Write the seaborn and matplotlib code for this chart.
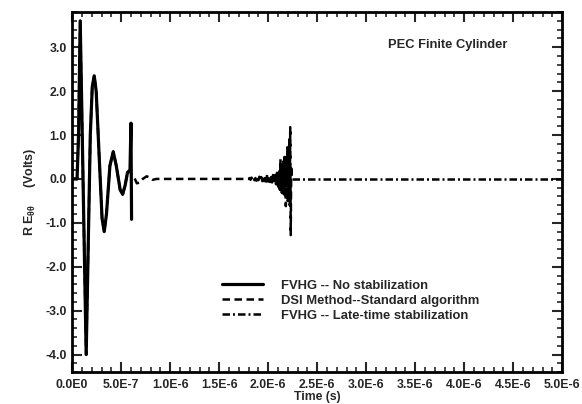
import numpy as np
import pandas as pd
import matplotlib
matplotlib.use("Agg")
import matplotlib.pyplot as plt
from matplotlib.ticker import MultipleLocator, FixedLocator
import seaborn as sns

# ---- data (time in microseconds, field in volts) ----
early_t = [0.000, 0.050, 0.065, 0.082, 0.143, 0.185, 0.205, 0.225, 0.245, 0.280,
           0.305, 0.327, 0.350, 0.385, 0.419, 0.450, 0.490, 0.515, 0.540, 0.565, 0.590]
early_v = [0.00, 0.00, 1.00, 3.60, -4.00, 1.00, 2.10, 2.35, 2.00, 0.30,
           -0.90, -1.20, -0.80, 0.30, 0.62, 0.30, -0.25, -0.35, -0.15, 0.15, 0.20]

# solid: no stabilization (blows up at ~0.6 us)
nostab_t = early_t + [0.600, 0.606]
nostab_v = early_v + [1.27, -0.92]

# dashed: DSI standard algorithm (blows up at ~2.23 us)
dsi_tail_t = [0.600, 0.630, 0.660, 0.690, 0.720, 0.760, 0.790, 0.820, 0.860, 1.800,
              1.81, 1.82, 1.83, 1.84, 1.85, 1.86, 1.87, 1.88, 1.89, 1.90,
              1.91, 1.92, 1.93, 1.94, 1.95, 1.96, 1.97, 1.98, 1.99, 2.00,
              2.01, 2.02, 2.03, 2.04, 2.05, 2.06, 2.07, 2.08, 2.09, 2.10,
              2.105, 2.11, 2.115, 2.12, 2.125, 2.13, 2.135, 2.14, 2.145, 2.15,
              2.155, 2.16, 2.165, 2.17, 2.175, 2.18, 2.185, 2.19, 2.195, 2.20,
              2.205, 2.21, 2.215, 2.22, 2.225, 2.23, 2.235, 2.24]
dsi_tail_v = [0.12, 0.05, -0.10, -0.08, 0.00, 0.06, 0.03, -0.02, 0.00, 0.00,
              0.02, -0.02, 0.03, -0.02, 0.03, -0.03, 0.02, -0.04, 0.04, -0.03,
              0.05, -0.04, 0.04, -0.05, 0.06, -0.05, 0.05, -0.06, 0.12, -0.06,
              0.07, -0.07, 0.08, -0.08, 0.09, -0.10, 0.12, -0.12, 0.14, -0.15,
              0.18, -0.20, 0.22, -0.25, 0.45, -0.30, 0.30, -0.32, 0.35, -0.30,
              0.40, -0.35, 0.50, -0.40, 0.38, -0.62, 0.50, -0.45, 0.72, -0.50,
              0.60, -0.40, 0.90, -0.60, 1.18, -1.28, 0.30, 0.00]
dsi_t = early_t + dsi_tail_t
dsi_v = early_v + dsi_tail_v

# dash-dot: late-time stabilization
late_t = [2.24, 2.60, 3.00, 3.50, 4.00, 4.50, 5.00]
late_v = [0.00, 0.00, 0.00, 0.00, 0.00, 0.00, 0.00]

series_names = ["FVHG -- No stabilization",
                "DSI Method--Standard algorithm",
                "FVHG -- Late-time stabilization"]

x_ticks = [0.0, 0.5e-6, 1.0e-6, 1.5e-6, 2.0e-6, 2.5e-6, 3.0e-6, 3.5e-6, 4.0e-6, 4.5e-6, 5.0e-6]
x_ticklabels = ["0.0E0", "5.0E-7", "1.0E-6", "1.5E-6", "2.0E-6", "2.5E-6",
                "3.0E-6", "3.5E-6", "4.0E-6", "4.5E-6", "5.0E-6"]
y_ticks = [-4.0, -3.0, -2.0, -1.0, 0.0, 1.0, 2.0, 3.0]
y_ticklabels = ["-4.0", "-3.0", "-2.0", "-1.0", "0.0", "1.0", "2.0", "3.0"]

# ---- plotting ----
sns.set_style("ticks")
plt.rcParams["font.family"] = ["Liberation Sans", "DejaVu Sans"]
plt.rcParams["font.weight"] = "bold"
plt.rcParams["mathtext.fontset"] = "custom"
plt.rcParams["mathtext.rm"] = "Liberation Sans:bold"
plt.rcParams["mathtext.it"] = "Liberation Sans:bold"
plt.rcParams["mathtext.bf"] = "Liberation Sans:bold"

fig = plt.figure(figsize=(5.82, 4.04), dpi=100)
ax = fig.add_axes([0.124, 0.079, 0.842, 0.891])

df_no = pd.DataFrame({"t": np.array(nostab_t) * 1e-6, "v": nostab_v})
df_dsi = pd.DataFrame({"t": np.array(dsi_t) * 1e-6, "v": dsi_v})
df_late = pd.DataFrame({"t": np.array(late_t) * 1e-6, "v": late_v})

sns.lineplot(data=df_late, x="t", y="v", ax=ax, color="black", lw=1.8,
             sort=False, label=series_names[2],
             linestyle=(0, (3, 1.2, 0.8, 1.2)), zorder=2)
sns.lineplot(data=df_dsi, x="t", y="v", ax=ax, color="black", lw=1.8,
             sort=False, label=series_names[1], linestyle=(0, (3, 1.8)), zorder=3)
sns.lineplot(data=df_no, x="t", y="v", ax=ax, color="black", lw=2.3,
             sort=False, label=series_names[0], linestyle="-", zorder=4)

ax.set_xlim(0, 5.0e-6)
ax.set_ylim(-4.4, 3.8)
ax.xaxis.set_major_locator(FixedLocator(x_ticks))
ax.set_xticklabels(x_ticklabels)
ax.xaxis.set_minor_locator(MultipleLocator(1e-7))
ax.yaxis.set_major_locator(FixedLocator(y_ticks))
ax.set_yticklabels(y_ticklabels)
ax.yaxis.set_minor_locator(MultipleLocator(0.2))

ax.tick_params(which="both", direction="in", top=True, right=True,
               labelsize=8.8, width=1.5)
ax.tick_params(axis="x", which="major", pad=5)
ax.tick_params(axis="y", which="major", pad=4)
ax.tick_params(which="major", length=7)
ax.tick_params(which="minor", length=3.5, width=1.2)
for lab in ax.get_xticklabels() + ax.get_yticklabels():
    lab.set_fontweight("bold")
for s in ax.spines.values():
    s.set_linewidth(2.0)
    s.set_color("black")

ax.set_xlabel("Time (s)", fontsize=8.8, fontweight="bold", labelpad=0)
ax.set_ylabel(r"R E$_{\theta\theta}$     (Volts)", fontsize=9, fontweight="bold", labelpad=5)

ax.text(0.645, 0.908, "PEC Finite Cylinder", transform=ax.transAxes,
        fontsize=9.3, fontweight="bold", va="center", ha="left")

h, l = ax.get_legend_handles_labels()
order = [l.index(n) for n in series_names]
leg = ax.legend([h[i] for i in order], [l[i] for i in order], frameon=False,
                loc="upper left", bbox_to_anchor=(0.296, 0.272),
                fontsize=9.4, handlelength=3.1, handletextpad=1.4,
                labelspacing=0.22, borderaxespad=0)
for t in leg.get_texts():
    t.set_fontweight("bold")

fig.savefig("out.png", dpi=100)
